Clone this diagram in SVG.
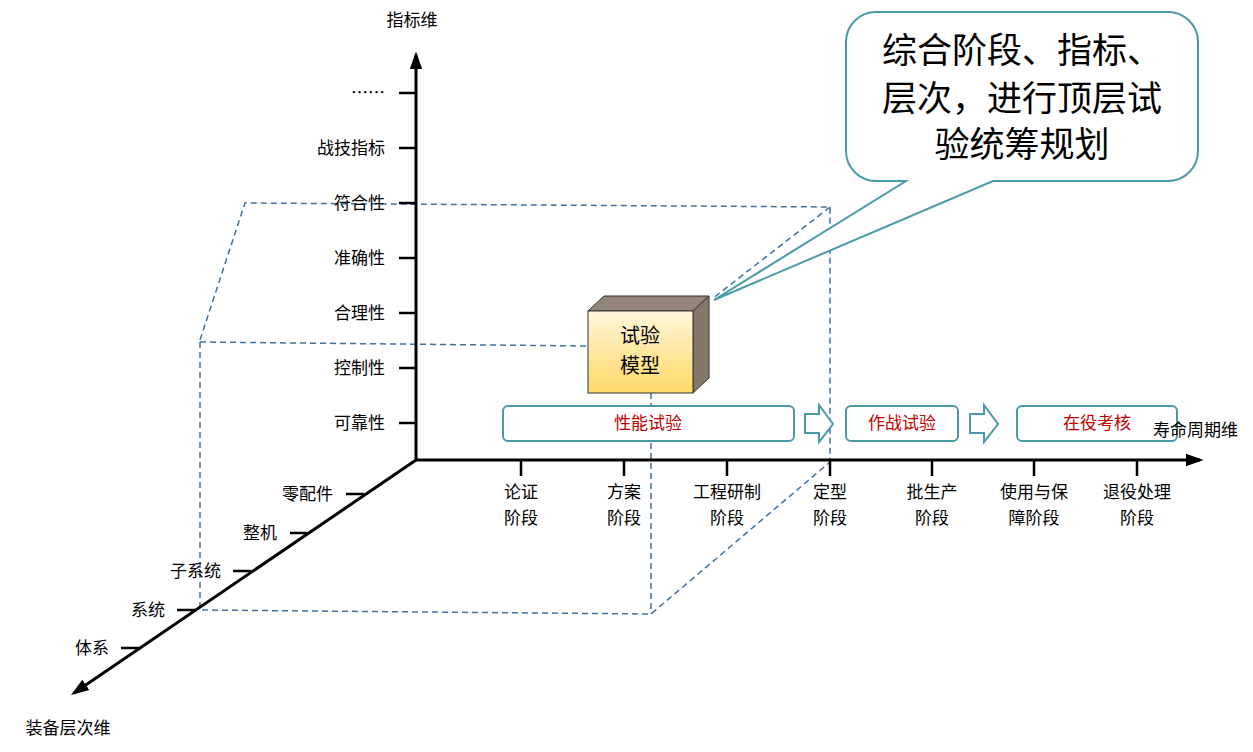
<svg xmlns="http://www.w3.org/2000/svg" width="1253" height="752" viewBox="0 0 1253 752">
<defs>
<style>
text{font-family:"Noto Sans CJK SC","Liberation Sans",sans-serif;fill:#000}
.l{font-size:17px}
.r{text-anchor:end}
.m{text-anchor:middle}
.ax{stroke:#000;stroke-width:3;fill:none}
.tk{stroke:#000;stroke-width:2.5}
.d{stroke:#41719c;stroke-width:1.5;stroke-dasharray:6,4;fill:none}
.bar{fill:#fff;stroke:#4a9aa5;stroke-width:2}
.red{fill:#c00000;font-size:17px;text-anchor:middle}
</style>
<marker id="ah" viewBox="0 0 10 10" refX="8" refY="5" markerWidth="6" markerHeight="6" orient="auto" markerUnits="strokeWidth"><path d="M0,1.5L10,5L0,8.5z" fill="#000"/></marker>
<linearGradient id="g" x1="0" y1="0" x2="0" y2="1"><stop offset="0" stop-color="#fff6dc"/><stop offset="1" stop-color="#ffd966"/></linearGradient>
</defs>
<g id="connectors">
<path class="d" d="M200,342L200,610L651,614L830,462M200,340L245,203L830,207L830,462M830,207L712,299M200,342L588,346M651,393L651,614"/>
<line class="ax" x1="416" y1="460" x2="416" y2="55" marker-end="url(#ah)"/>
<line class="ax" x1="416" y1="460" x2="1200" y2="460" marker-end="url(#ah)"/>
<line class="ax" x1="416" y1="460" x2="74" y2="693" marker-end="url(#ah)"/>
<path class="tk" d="M399,93H416M399,148H416M399,203H416M399,258H416M399,313H416M399,368H416M399,423H416M521,460V476M624,460V476M727,460V476M830,460V476M932,460V476M1034,460V476M1137,460V476M346,494H364M290,533H307M233,571H251M177,610H195M121,648H139"/>
</g>
<g id="stage-bars">
<rect class="bar" x="503" y="406" width="291" height="35" rx="5"/>
<text class="red" x="648" y="429">性能试验</text>
<path class="bar" d="M805,414H819V405L833,424L819,442V433H805Z"/>
<rect class="bar" x="846" y="406" width="112" height="35" rx="5"/>
<text class="red" x="902" y="429">作战试验</text>
<path class="bar" d="M970,414H984V405L998,424L984,442V433H970Z"/>
<rect class="bar" x="1017" y="406" width="160" height="35" rx="5"/>
<text class="red" x="1097" y="429">在役考核</text>
</g>
<g id="labels">
<text x="412" y="26" class="l m">指标维</text>
<text x="385" y="99" class="l r">……</text>
<text x="385" y="154" class="l r">战技指标</text>
<text x="385" y="209" class="l r">符合性</text>
<text x="385" y="264" class="l r">准确性</text>
<text x="385" y="319" class="l r">合理性</text>
<text x="385" y="374" class="l r">控制性</text>
<text x="385" y="429" class="l r">可靠性</text>
<text x="333" y="500" class="l r">零配件</text>
<text x="277" y="539" class="l r">整机</text>
<text x="221" y="577" class="l r">子系统</text>
<text x="165" y="616" class="l r">系统</text>
<text x="109" y="654" class="l r">体系</text>
<text x="68" y="734" class="l m">装备层次维</text>
<text x="1238" y="436" class="l r">寿命周期维</text>
<g class="l m">
<text x="521" y="498">论证</text><text x="521" y="524">阶段</text>
<text x="624" y="498">方案</text><text x="624" y="524">阶段</text>
<text x="727" y="498">工程研制</text><text x="727" y="524">阶段</text>
<text x="830" y="498">定型</text><text x="830" y="524">阶段</text>
<text x="932" y="498">批生产</text><text x="932" y="524">阶段</text>
<text x="1034" y="498">使用与保</text><text x="1034" y="524">障阶段</text>
<text x="1137" y="498">退役处理</text><text x="1137" y="524">阶段</text>
</g>
</g>
<g id="model">
<path d="M588,311L604,296H709L693,311Z" fill="#938579" stroke="#333" stroke-width="1"/>
<path d="M693,311L709,296V378L693,393Z" fill="#857769" stroke="#333" stroke-width="1"/>
<rect x="588" y="311" width="105" height="82" fill="url(#g)" stroke="#333" stroke-width="1"/>
<text x="640" y="343" class="m" font-size="20">试验</text>
<text x="640" y="373" class="m" font-size="20">模型</text>
</g>
<g id="callout">
<path d="M876,12H1168A30,30 0 0 1 1198,42V151A30,30 0 0 1 1168,181H993L714,300L906,181H876A30,30 0 0 1 846,151V42A30,30 0 0 1 876,12Z" fill="#fff" stroke="#4a9aa5" stroke-width="2"/>
<text x="1022" y="63" class="m" font-size="35">综合阶段、指标、</text>
<text x="1022" y="111" class="m" font-size="35">层次，进行顶层试</text>
<text x="1022" y="157" class="m" font-size="35">验统筹规划</text>
</g>
</svg>
